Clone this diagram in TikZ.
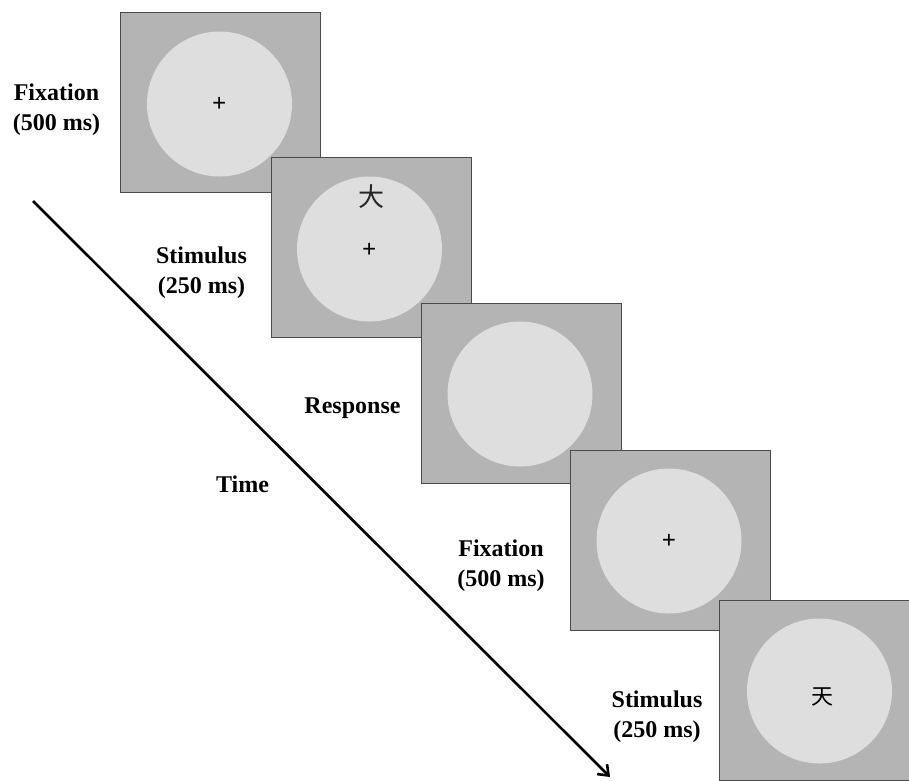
\documentclass[tikz,border=0pt]{standalone}
\usepackage{fontspec}
\setmainfont{Liberation Serif}
\newfontfamily\cjk{Noto Sans CJK SC}
\usetikzlibrary{arrows.meta}
\definecolor{scrgray}{HTML}{B4B4B4}
\definecolor{discgray}{HTML}{DEDEDE}
\definecolor{edgegray}{HTML}{4A4A4A}
\tikzset{
  screen/.style={draw=edgegray, line width=1pt, fill=scrgray, minimum width=200pt, minimum height=180pt, anchor=north west, inner sep=0pt},
  disc/.style={circle, fill=discgray, minimum size=145pt, inner sep=0pt},
  fixcross/.style={font=\fontsize{25}{25}\selectfont\bfseries, inner sep=0pt},
  lbl/.style={font=\fontsize{24}{29.5}\selectfont\bfseries, align=center, inner sep=0pt},
  timearrow/.style={line width=2.6pt, -{Straight Barb[length=9pt,width=14pt,line width=2.6pt]}}
}
\begin{document}
\begin{tikzpicture}[x=1pt,y=-1pt]
\useasboundingbox (0,0) rectangle (909,780);
% screen 1
\node[screen] (s1) at (120,12) {};
\node[disc] (c1) at (219.5,104) {};
\node[fixcross] (p1) at (219.3,104.5) {+};
% screen 2
\node[screen] (s2) at (271,157) {};
\node[disc] (c2) at (369.5,249) {};
\node[fixcross] (p2) at (369.3,250) {+};
\node[inner sep=0pt, font=\cjk\fontsize{26}{26}\selectfont, text=black!85] (k1) at (371.5,196.5) {大};
% screen 3
\node[screen] (s3) at (421,303) {};
\node[disc] (c3) at (520,394) {};
% screen 4
\node[screen] (s4) at (570,449.5) {};
\node[disc] (c4) at (669,541) {};
\node[fixcross] (p4) at (669,541.5) {+};
% screen 5
\node[screen] (s5) at (719,600) {};
\node[disc] (c5) at (819.5,691) {};
\node[inner sep=0pt, font=\cjk\fontsize{22}{22}\selectfont] (k2) at (822,697) {天};
% labels
\node[lbl, anchor=north] (l1) at (56.5,84) {Fixation\\(500 ms)};
\node[lbl, anchor=north] (l2) at (201.5,247) {Stimulus\\(250 ms)};
\node[lbl, anchor=base] (l3) at (352.5,413.5) {Response};
\node[lbl, anchor=base] (l4) at (242.5,492) {Time};
\node[lbl, anchor=north] (l5) at (501,540) {Fixation\\(500 ms)};
\node[lbl, anchor=north] (l6) at (657,691) {Stimulus\\(250 ms)};
% time arrow
\coordinate (ta) at (33,201);
\coordinate (tb) at (610,777);
\draw[timearrow] (ta) -- (tb);
\end{tikzpicture}
\end{document}
